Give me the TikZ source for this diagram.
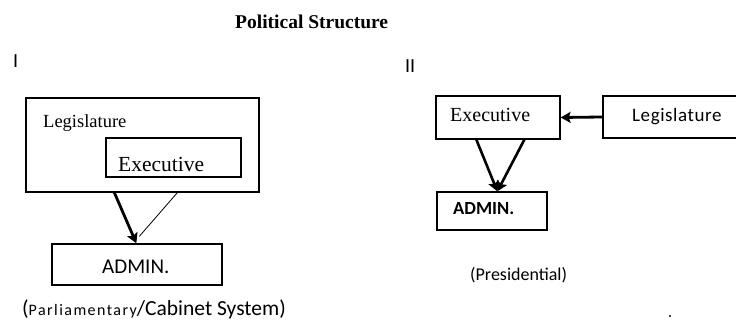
\documentclass[tikz,border=0pt]{standalone}
\usepackage{fontspec}
\setmainfont{Liberation Serif}
\newfontfamily\carl{Carlito}
\usetikzlibrary{arrows.meta}
\begin{document}
\begin{tikzpicture}[x=1pt,y=-1pt,
  box/.style={draw=black,line width=1.3pt,inner sep=0pt},
  lbl/.style={inner sep=0pt,anchor=base west,text=black},
  heavy/.style={line width=2.8pt,-{Stealth[length=10pt,width=11pt,inset=2pt]}},
  light/.style={line width=0.8pt},
  tip/.style={line width=2.6pt,-{Stealth[length=10pt,width=11pt,inset=2pt]}}]
\clip (0,0) rectangle (736,320);
\fill[white] (0,0) rectangle (736,320);
% title and numerals
\node[lbl,font=\fontsize{19.5}{22}\selectfont\bfseries] (title) at (235,29) {Political Structure};
\node[lbl,font=\carl\fontsize{20}{22}\selectfont] (one) at (13,68) {I};
\node[lbl,font=\carl\fontsize{20}{22}\selectfont] (two) at (405,73) {II};
% left diagram
\node[box,minimum width=233,minimum height=94] (legL) at (142.5,145) {};
\node[lbl,font=\fontsize{18.5}{20}\selectfont] (legLt) at (43,128) {Legislature};
\node[box,minimum width=135,minimum height=39] (exeL) at (173.5,157.5) {};
\node[lbl,font=\fontsize{21.5}{24}\selectfont] (exeLt) at (118,171.5) {Executive};
\node[box,minimum width=170,minimum height=41] (admL) at (137,264.5) {};
\node[lbl,font=\carl\fontsize{21}{24}\selectfont] (admLt) at (102,273) {ADMIN.};
\node[lbl,font=\carl\fontsize{21.5}{24}\selectfont] (capL) at (22,316) {({\addfontfeature{LetterSpace=9}\fontsize{16}{18}\selectfont Parliamentary}/Cabinet System)};
\draw[heavy] ([xshift=89pt]legL.south west) -- ([xshift=85pt]admL.north west);
\draw[light] ([xshift=152pt]legL.south west) -- ([xshift=88pt,yshift=7pt]admL.north west);
% right diagram
\node[box,minimum width=124,minimum height=43] (exeR) at (498,117.5) {};
\node[lbl,font=\fontsize{20}{22}\selectfont] (exeRt) at (450,122) {Executive};
\node[box,minimum width=150,minimum height=42] (legR) at (678,117) {};
\node[lbl,font=\carl\fontsize{19}{22}\selectfont\addfontfeature{LetterSpace=3}] (legRt) at (632,122) {Legislature};
\node[box,minimum width=110,minimum height=38] (admR) at (492,211) {};
\node[lbl,font=\carl\fontsize{18.5}{22}\selectfont\bfseries] (admRt) at (453,215) {ADMIN.};
\node[lbl,font=\carl\fontsize{18}{22}\selectfont] (pres) at (470,280) {(Presidential)};
\draw[heavy] (legR.west) -- (exeR.east);
\draw[tip] ([xshift=41pt]exeR.south west) -- ([xshift=61pt]admR.north west);
\draw[tip] ([xshift=89pt]exeR.south west) -- ([xshift=61pt]admR.north west);
\fill (670,316) circle (1.1pt);
\end{tikzpicture}
\end{document}
